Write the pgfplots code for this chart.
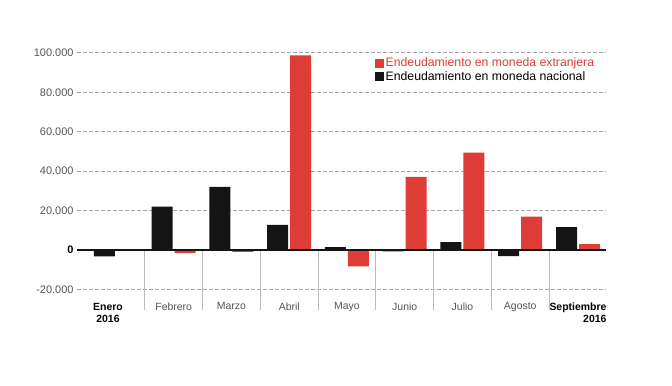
\documentclass[border=0pt]{standalone}
\usepackage{fontspec}
\setmainfont{Liberation Sans}
\usepackage{pgfplots}
\pgfplotsset{compat=1.18}
\definecolor{redbar}{HTML}{DD3C37}
\definecolor{blackbar}{HTML}{141414}
\definecolor{ticktext}{HTML}{555555}
\definecolor{gridc}{HTML}{A8A8A8}
\definecolor{sepc}{HTML}{BBBBBB}
\begin{document}
\begin{tikzpicture}
\useasboundingbox (0,0) rectangle (672bp,386bp);
\begin{axis}[
  at={(77bp,77bp)}, anchor=south west,
  scale only axis, width=529bp, height=266bp,
  xmin=-0.675, xmax=8.485,
  ymin=-30000, ymax=105000,
  axis line style={draw=none},
  major tick length=0pt,
  scaled y ticks=false,
  ybar=2bp, bar width=21bp,
  ytick={-20000,0,20000,40000,60000,80000,100000},
  yticklabels={-20.000,{\textcolor{black}{\bfseries 0}},20.000,40.000,60.000,80.000,100.000},
  ymajorgrids,
  grid style={gridc, dash pattern=on 3.5bp off 2.5bp, line width=0.9bp},
  xtick={0,...,8},
  xticklabels={
    {\hspace*{-16bp}\begin{tabular}{@{}c@{}}\textcolor{black}{\bfseries Enero}\\\textcolor{black}{\bfseries 2016}\end{tabular}},
    Febrero, Marzo, Abril, Mayo, Junio, Julio, Agosto,
    {\begin{tabular}{@{}r@{}}\textcolor{black}{\bfseries Septiembre}\\\textcolor{black}{\bfseries 2016}\end{tabular}}},
  xticklabel style={font=\fontsize{10.5}{12}\selectfont, text=ticktext, anchor=north, yshift=10bp},
  yticklabel style={font=\fontsize{11}{13}\selectfont, text=ticktext},
  clip=false,
  reverse legend,
  legend style={at={(0.5633,0.952)}, anchor=north west, draw=none, fill=none,
    font=\fontsize{12.3}{15}\selectfont, inner sep=0pt, row sep=-1bp,
    cells={anchor=west}},
]
\addplot[fill=blackbar, draw=none,
  legend image code/.code={\fill[blackbar] (0bp,-4.5bp) rectangle (8.5bp,4.5bp);}]
  coordinates {(0,-3300) (1,22000) (2,32000) (3,12700) (4,1400) (5,-700) (6,3900) (7,-3200) (8,11600)};
\addlegendentry{\textcolor{black}{Endeudamiento en moneda nacional}}
\addplot[fill=redbar, draw=none,
  legend image code/.code={\fill[redbar] (0bp,-4.5bp) rectangle (8.5bp,4.5bp);}]
  coordinates {(0,0) (1,-1700) (2,-1000) (3,98700) (4,-8400) (5,37100) (6,49400) (7,16900) (8,2900)};
\addlegendentry{\textcolor{redbar}{Endeudamiento en moneda extranjera}}
\pgfplotsinvokeforeach{0.5,1.5,2.5,3.5,4.5,5.5,6.5,7.5}{
  \draw[sepc, line width=1.2bp] (axis cs:#1,0) -- (axis cs:#1,-30400);
}
\draw[blackbar, line width=1.5bp] (axis cs:-0.675,0) -- (axis cs:8.485,0);
\end{axis}
\end{tikzpicture}
\end{document}
